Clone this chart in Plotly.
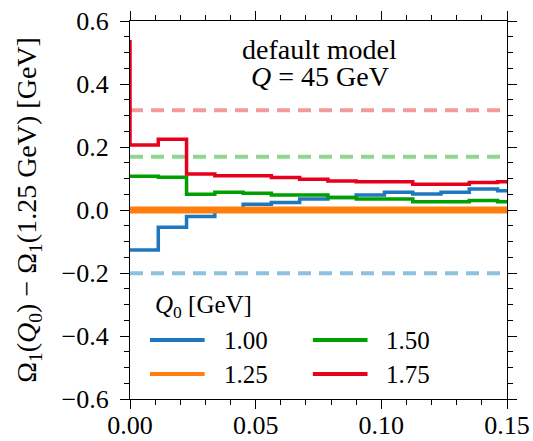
import plotly.graph_objects as go

# ---- data ----
bin_edges = [0.0, 0.01125, 0.0225, 0.03375, 0.045, 0.05625, 0.0675, 0.07875,
             0.09, 0.10125, 0.1125, 0.12375, 0.135, 0.14625, 0.15]
q0_labels = ["1.00", "1.25", "1.50", "1.75"]
vals_100 = [-0.127, -0.055, -0.021, 0.0, 0.018, 0.024, 0.035, 0.040, 0.048,
            0.056, 0.051, 0.056, 0.067, 0.061]
vals_125 = [0.0] * 14
vals_150 = [0.107, 0.104, 0.050, 0.056, 0.053, 0.048, 0.048, 0.040, 0.035,
            0.035, 0.026, 0.026, 0.030, 0.026]
vals_175 = [0.206, 0.225, 0.114, 0.109, 0.109, 0.103, 0.098, 0.092, 0.090,
            0.090, 0.082, 0.082, 0.087, 0.090]
spike_175 = 0.54  # value at the very first (zero-width) point for Q0=1.75
ref_100 = -0.201
ref_150 = 0.169
ref_175 = 0.317

colors = {"1.00": "#1f77c0", "1.25": "#ff7f0e", "1.50": "#00a000", "1.75": "#e6001c"}
light = {"1.00": "#8ec1e0", "1.50": "#8fd68f", "1.75": "#f59a9a"}

FONT = "Liberation Serif"
FS = 25

def step(vals):
    return bin_edges, list(vals) + [vals[-1]]

fig = go.Figure()

# dashed reference lines
for lab, ref in [("1.00", ref_100), ("1.50", ref_150), ("1.75", ref_175)]:
    fig.add_trace(go.Scatter(x=[bin_edges[0], bin_edges[-1]], y=[ref, ref], mode="lines",
                             line=dict(color=light[lab], width=4, dash="13px,8px"),
                             showlegend=False, hoverinfo="skip"))

x, y = step(vals_100)
fig.add_trace(go.Scatter(x=x, y=y, mode="lines", line_shape="hv", name="1.00",
                         line=dict(color=colors["1.00"], width=3.5), showlegend=False))
x, y = step(vals_125)
fig.add_trace(go.Scatter(x=x, y=y, mode="lines", line_shape="hv", name="1.25",
                         line=dict(color=colors["1.25"], width=7), showlegend=False))
x, y = step(vals_150)
fig.add_trace(go.Scatter(x=x, y=y, mode="lines", line_shape="hv", name="1.50",
                         line=dict(color=colors["1.50"], width=3.5), showlegend=False))
x, y = step(vals_175)
fig.add_trace(go.Scatter(x=[bin_edges[0]] + x, y=[spike_175] + y, mode="lines", line_shape="hv",
                         name="1.75", line=dict(color=colors["1.75"], width=3.5),
                         showlegend=False))

# ---- manual two-column legend ----
legend_pos = {"1.00": (0.053, 0.156), "1.25": (0.053, 0.066),
              "1.50": (0.485, 0.156), "1.75": (0.485, 0.066)}
shapes = []
annotations = []
for lab in q0_labels:
    lx, ly = legend_pos[lab]
    shapes.append(dict(type="line", xref="paper", yref="paper", x0=lx, x1=lx + 0.145,
                       y0=ly, y1=ly, line=dict(color=colors[lab], width=4)))
    annotations.append(dict(x=lx + 0.19, y=ly, xref="paper", yref="paper", text=lab,
                            showarrow=False, xanchor="left", yanchor="middle",
                            font=dict(family=FONT, size=FS)))
annotations.append(dict(x=0.06, y=0.246, xref="paper", yref="paper",
                        text="<i>Q</i><sub>0</sub> [GeV]", showarrow=False,
                        xanchor="left", yanchor="middle", font=dict(family=FONT, size=FS)))
annotations.append(dict(x=0.503, y=0.925, xref="paper", yref="paper",
                        text="default model", showarrow=False, yanchor="middle",
                        font=dict(family=FONT, size=28)))
annotations.append(dict(x=0.503, y=0.853, xref="paper", yref="paper",
                        text="<i>Q</i> = 45 GeV", showarrow=False, yanchor="middle",
                        font=dict(family=FONT, size=28)))

axis_common = dict(showline=True, linecolor="black", linewidth=1.2, mirror="allticks",
                   ticks="outside", tickcolor="black", ticklen=9, tickwidth=1.2,
                   showgrid=False, zeroline=False, automargin=False,
                   tickfont=dict(family=FONT, size=26, color="black"))

fig.update_layout(
    width=533, height=441,
    margin=dict(l=130, r=25.5, t=21, b=42),
    plot_bgcolor="white", paper_bgcolor="white",
    font=dict(family=FONT, size=FS, color="black"),
    xaxis=dict(range=[0, 0.15], tickvals=[0, 0.05, 0.10, 0.15], tickformat=".2f",
               minor=dict(dtick=0.01, ticks="outside", ticklen=5, tickcolor="black", tickwidth=1.2),
               ticklabelstandoff=-6,
               **axis_common),
    yaxis=dict(range=[-0.6, 0.6], tickvals=[-0.6, -0.4, -0.2, 0.0, 0.2, 0.4, 0.6], tickformat=".1f",
               minor=dict(dtick=0.05, ticks="outside", ticklen=5, tickcolor="black", tickwidth=1.2),
               ticklabelstandoff=6,
               title=dict(text="Ω<sub>1</sub>(<i>Q</i><sub>0</sub>) − Ω<sub>1</sub>(1.25 GeV) [GeV]",
                          font=dict(family=FONT, size=28), standoff=16),
               **axis_common),
    shapes=shapes,
    annotations=annotations,
)

# remove the default page margin so the figure sits at the window's top-left corner
fig.write_html("out.html", config={"displayModeBar": False},
               post_script="document.body.style.margin='0';document.body.style.overflow='hidden';")
